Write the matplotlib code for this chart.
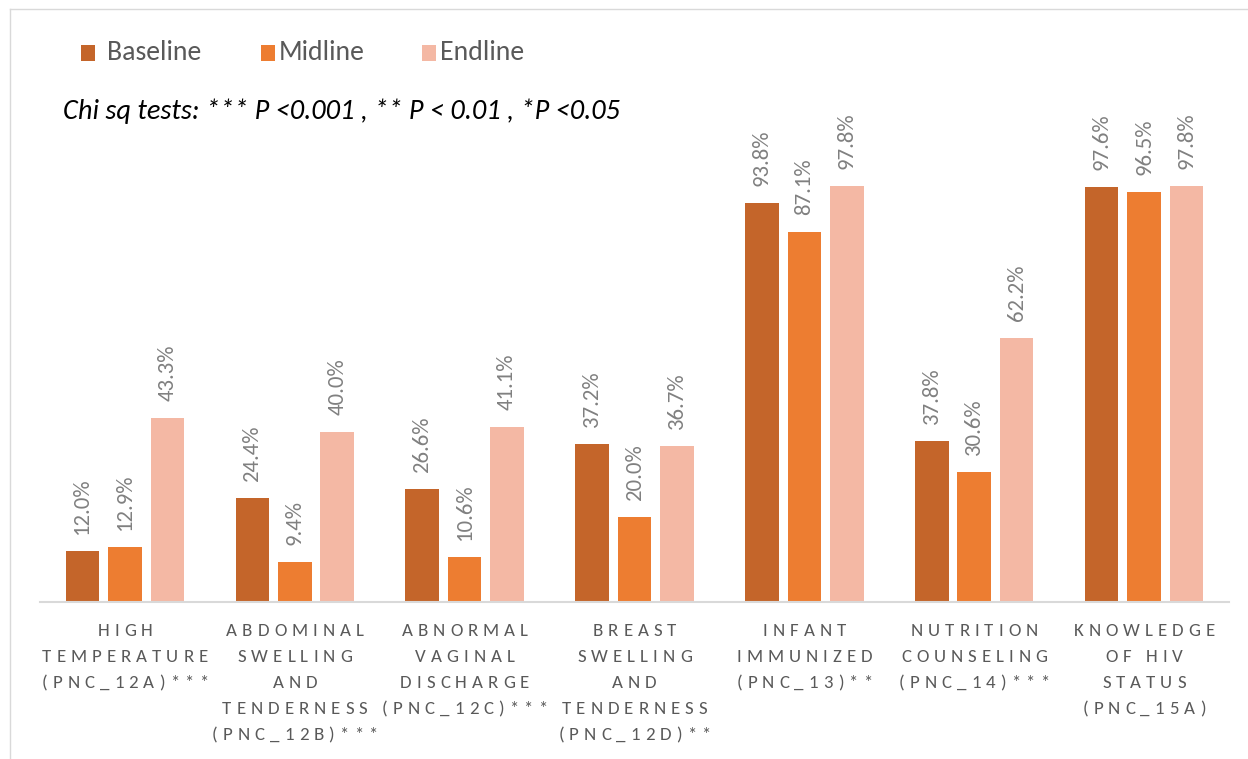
import matplotlib
matplotlib.use("Agg")
import matplotlib.pyplot as plt
import matplotlib.transforms as mtransforms
from matplotlib.lines import Line2D
from matplotlib.patches import Rectangle
from matplotlib import font_manager as fm
from matplotlib.ft2font import FT2Font, LoadFlags
import numpy as np

# ---------------- data ----------------
categories = [
    ["HIGH", "TEMPERATURE", "(PNC_12A)***"],
    ["ABDOMINAL", "SWELLING", "AND", "TENDERNESS", "(PNC_12B)***"],
    ["ABNORMAL", "VAGINAL", "DISCHARGE", "(PNC_12C)***"],
    ["BREAST", "SWELLING", "AND", "TENDERNESS", "(PNC_12D)**"],
    ["INFANT", "IMMUNIZED", "(PNC_13)**"],
    ["NUTRITION", "COUNSELING", "(PNC_14)***"],
    ["KNOWLEDGE", "OF HIV", "STATUS", "(PNC_15A)"],
]
series_names = ["Baseline", "Midline", "Endline"]
baseline = [12.0, 24.4, 26.6, 37.2, 93.8, 37.8, 97.6]
midline = [12.9, 9.4, 10.6, 20.0, 87.1, 30.6, 96.5]
endline = [43.3, 40.0, 41.1, 36.7, 97.8, 62.2, 97.8]
note_text = "Chi sq tests: *** P <0.001 , ** P < 0.01 , *P <0.05"

colors = ["#C4652A", "#ED7D31", "#F4B8A4"]
FONT = ["Carlito", "Lato", "DejaVu Sans"]
GRAY = "#595959"
LABEL_GRAY = "#808080"

W, H, DPI = 1248, 759, 100
fig = plt.figure(figsize=(W / DPI, H / DPI), dpi=DPI)
fig.patch.set_facecolor("white")

def fx(px):
    return px / W

def fy(py):
    return 1 - py / H

ax_left, ax_right, ax_top, ax_bottom = 40, 1229, 177, 602
ax = fig.add_axes([fx(ax_left), fy(ax_bottom), (ax_right - ax_left) / W, (ax_bottom - ax_top) / H])
ax.set_xlim(-0.5, len(categories) - 0.5)
ax.set_ylim(0, 100)
for s in ["left", "right", "top"]:
    ax.spines[s].set_visible(False)
ax.spines["bottom"].set_color("#D9D9D9")
ax.spines["bottom"].set_linewidth(1.5)
ax.set_xticks([])
ax.set_yticks([])
ax.patch.set_alpha(0)

x = np.arange(len(categories))
width = 0.198
offsets = [-0.25, 0.0, 0.25]
for vals, off, c in zip([baseline, midline, endline], offsets, colors):
    ax.bar(x + off, vals, width=width, color=c, zorder=2)
    for xi, v in zip(x + off, vals):
        ax.annotate(f"{v:.1f}%", xy=(xi, v), xytext=(0, 17 * 0.72), textcoords="offset points",
                    rotation=90, ha="center", va="bottom", fontsize=16.4,
                    family=FONT, color=LABEL_GRAY, annotation_clip=False)

# ---------------- letter-spaced category labels ----------------
lab_size = 13.6
tracking_px = 5.0
fp = fm.FontProperties(family=FONT, size=lab_size)
font = FT2Font(fm.findfont(fp))
font.set_size(lab_size, DPI)

def adv(ch):
    g = font.load_char(ord(ch), flags=LoadFlags.NO_HINTING)
    return g.linearHoriAdvance / 65536.0

xt = ax.get_xaxis_transform()
first_base = 34
line_gap = 26
for i, lines in enumerate(categories):
    for k, line in enumerate(lines):
        advs = [adv(ch) for ch in line]
        total = sum(advs) + tracking_px * (len(line) - 1)
        pos = -total / 2.0
        dy = -(first_base + line_gap * k)
        for ch, a in zip(line, advs):
            if ch != " ":
                tr = mtransforms.offset_copy(xt, fig=fig, x=pos * 72 / DPI, y=dy * 72 / DPI, units="points")
                ax.text(i, 0, ch, transform=tr, ha="left", va="baseline", fontproperties=fp,
                        color=GRAY, clip_on=False)
            pos += a + tracking_px

# ---------------- legend ----------------
leg_y = 53
leg_items = [(81, 107), (261, 279), (422, 440)]
for (sq_x, tx_x), name, c in zip(leg_items, series_names, colors):
    fig.patches.append(Rectangle((fx(sq_x), fy(leg_y + 8)), 14 / W, 16 / H, transform=fig.transFigure,
                                 facecolor=c, edgecolor="none"))
    fig.text(fx(tx_x), fy(leg_y), name, ha="left", va="center", fontsize=20, family=FONT, color=GRAY)

# ---------------- note ----------------
renderer = fig.canvas.get_renderer()
t = fig.text(fx(63), fy(111), note_text, ha="left", va="center", fontsize=10, family=FONT,
             style="italic", color="black")
w10 = t.get_window_extent(renderer).width
t.set_fontsize(10 * 556 / w10)

# ---------------- frame ----------------
fig.add_artist(Line2D([fx(10), 1], [fy(9), fy(9)], transform=fig.transFigure, color="#D9D9D9", lw=1))
fig.add_artist(Line2D([fx(10), fx(10)], [fy(9), 0], transform=fig.transFigure, color="#D9D9D9", lw=1))

fig.savefig("out.png", dpi=DPI)
